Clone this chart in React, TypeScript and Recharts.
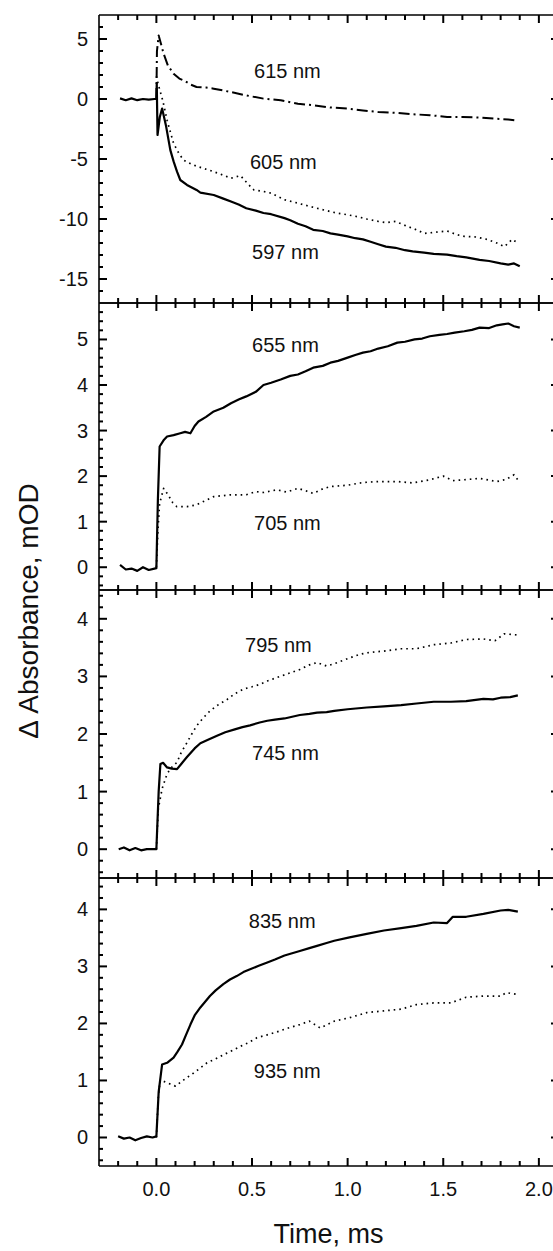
import React from 'react';
import { LineChart, Line, XAxis, YAxis, ReferenceDot } from 'recharts';

const FONT = '"Liberation Sans", Arial, Helvetica, sans-serif';

// ---------- axis ticks ----------
const xTicks = [-0.2, -0.1, 0, 0.1, 0.2, 0.3, 0.4, 0.5, 0.6, 0.7, 0.8, 0.9, 1.0, 1.1, 1.2, 1.3, 1.4, 1.5, 1.6, 1.7, 1.8, 1.9, 2.0];
const xMajor = [0, 0.5, 1.0, 1.5, 2.0];

const p1Ticks = [-16, -15, -14, -13, -12, -11, -10, -9, -8, -7, -6, -5, -4, -3, -2, -1, 0, 1, 2, 3, 4, 5, 6];
const p1Major = [-15, -10, -5, 0, 5];
const p2Ticks = [-0.4, -0.2, 0, 0.2, 0.4, 0.6, 0.8, 1, 1.2, 1.4, 1.6, 1.8, 2, 2.2, 2.4, 2.6, 2.8, 3, 3.2, 3.4, 3.6, 3.8, 4, 4.2, 4.4, 4.6, 4.8, 5, 5.2, 5.4, 5.6];
const p2Major = [0, 1, 2, 3, 4, 5];
const p34Ticks = [-0.4, -0.2, 0, 0.2, 0.4, 0.6, 0.8, 1, 1.2, 1.4, 1.6, 1.8, 2, 2.2, 2.4, 2.6, 2.8, 3, 3.2, 3.4, 3.6, 3.8, 4, 4.2, 4.4];
const p34Major = [0, 1, 2, 3, 4];

// ---------- panel 1 ----------
const t597 = [-0.19, -0.16, -0.13, -0.1, -0.07, -0.04, -0.01, 0.0, 0.002, 0.006, 0.018, 0.03, 0.05, 0.073, 0.09, 0.108, 0.125, 0.16, 0.21, 0.23, 0.30, 0.35, 0.39, 0.43, 0.47, 0.52, 0.56, 0.6, 0.67, 0.7, 0.74, 0.78, 0.82, 0.87, 0.91, 0.95, 1.0, 1.04, 1.08, 1.12, 1.16, 1.2, 1.25, 1.3, 1.34, 1.4, 1.45, 1.52, 1.57, 1.62, 1.69, 1.74, 1.8, 1.84, 1.87, 1.9];
const v597 = [0.05, -0.1, 0.05, -0.1, 0.0, -0.05, 0.0, 0.0, 1.3, -3.0, -1.5, -0.8, -2.2, -4.26, -5.2, -6.06, -6.75, -7.16, -7.58, -7.8, -8.0, -8.3, -8.55, -8.8, -9.1, -9.3, -9.5, -9.6, -9.93, -10.1, -10.4, -10.6, -10.9, -11.0, -11.2, -11.3, -11.45, -11.6, -11.7, -11.9, -12.1, -12.3, -12.4, -12.6, -12.7, -12.8, -12.9, -12.97, -13.1, -13.2, -13.4, -13.5, -13.7, -13.8, -13.7, -13.94];

const t605 = [0.0, 0.01, 0.033, 0.056, 0.09, 0.12, 0.143, 0.18, 0.21, 0.26, 0.30, 0.35, 0.39, 0.44, 0.48, 0.51, 0.56, 0.60, 0.67, 0.74, 0.79, 0.84, 0.89, 0.94, 1.0, 1.05, 1.1, 1.16, 1.2, 1.25, 1.31, 1.36, 1.40, 1.46, 1.52, 1.57, 1.61, 1.67, 1.73, 1.78, 1.82, 1.86, 1.89];
const v605 = [1.9, 1.2, -0.1, -1.77, -3.7, -4.6, -5.1, -5.4, -5.6, -5.85, -6.06, -6.35, -6.6, -6.39, -7.1, -7.58, -7.7, -7.85, -8.4, -8.68, -8.9, -9.1, -9.3, -9.5, -9.65, -9.8, -10.0, -10.2, -10.3, -10.2, -10.6, -10.9, -11.2, -11.1, -11.0, -11.3, -11.45, -11.5, -11.7, -12.0, -12.3, -11.7, -12.0];

const t615 = [0.0, 0.003, 0.012, 0.038, 0.06, 0.09, 0.12, 0.143, 0.18, 0.21, 0.26, 0.30, 0.39, 0.47, 0.56, 0.65, 0.74, 0.82, 0.91, 1.0, 1.08, 1.16, 1.25, 1.34, 1.43, 1.52, 1.6, 1.69, 1.78, 1.84, 1.89];
const v615 = [0.0, 4.0, 5.3, 3.77, 2.8, 2.1, 1.7, 1.55, 1.2, 1.0, 0.95, 0.86, 0.58, 0.3, 0.03, -0.1, -0.4, -0.52, -0.71, -0.8, -0.95, -1.08, -1.15, -1.27, -1.35, -1.49, -1.5, -1.54, -1.65, -1.7, -1.82];

// ---------- panel 2 ----------
const t655 = [-0.19, -0.16, -0.13, -0.1, -0.07, -0.04, -0.01, 0.0, 0.008, 0.017, 0.04, 0.056, 0.09, 0.125, 0.15, 0.178, 0.2, 0.22, 0.26, 0.30, 0.35, 0.39, 0.43, 0.47, 0.52, 0.56, 0.6, 0.65, 0.7, 0.74, 0.78, 0.82, 0.87, 0.91, 0.95, 1.0, 1.04, 1.08, 1.12, 1.16, 1.21, 1.26, 1.3, 1.35, 1.39, 1.43, 1.48, 1.52, 1.56, 1.61, 1.65, 1.69, 1.74, 1.78, 1.81, 1.84, 1.87, 1.9];
const v655 = [0.05, -0.05, -0.03, -0.08, 0.0, -0.06, -0.03, -0.02, 1.5, 2.65, 2.8, 2.87, 2.9, 2.94, 2.97, 2.94, 3.1, 3.2, 3.3, 3.42, 3.5, 3.6, 3.68, 3.75, 3.85, 4.0, 4.05, 4.12, 4.2, 4.23, 4.3, 4.38, 4.42, 4.49, 4.53, 4.6, 4.66, 4.71, 4.74, 4.8, 4.85, 4.93, 4.95, 5.0, 5.02, 5.07, 5.1, 5.12, 5.15, 5.18, 5.21, 5.26, 5.25, 5.31, 5.33, 5.35, 5.29, 5.26];

const t705 = [0.0, 0.008, 0.017, 0.038, 0.06, 0.085, 0.107, 0.16, 0.21, 0.25, 0.30, 0.39, 0.47, 0.52, 0.56, 0.63, 0.68, 0.74, 0.78, 0.82, 0.87, 0.91, 1.0, 1.08, 1.16, 1.26, 1.34, 1.43, 1.5, 1.55, 1.61, 1.69, 1.78, 1.83, 1.87, 1.89];
const v705 = [0.0, 0.8, 1.4, 1.73, 1.6, 1.42, 1.33, 1.33, 1.37, 1.45, 1.55, 1.59, 1.59, 1.66, 1.64, 1.70, 1.65, 1.73, 1.68, 1.62, 1.72, 1.77, 1.8, 1.86, 1.88, 1.88, 1.85, 1.92, 2.0, 1.9, 1.92, 1.95, 1.88, 1.93, 2.03, 1.92];

// ---------- panel 3 ----------
const t745 = [-0.197, -0.17, -0.14, -0.11, -0.08, -0.05, -0.02, 0.0, 0.012, 0.021, 0.035, 0.056, 0.08, 0.108, 0.13, 0.16, 0.2, 0.23, 0.27, 0.317, 0.36, 0.41, 0.45, 0.49, 0.54, 0.58, 0.62, 0.67, 0.71, 0.75, 0.8, 0.84, 0.89, 0.93, 1.0, 1.1, 1.19, 1.28, 1.36, 1.45, 1.54, 1.62, 1.71, 1.76, 1.8, 1.85, 1.89];
const v745 = [0.0, 0.03, -0.02, 0.02, -0.02, 0.0, 0.0, 0.0, 1.0, 1.48, 1.5, 1.42, 1.4, 1.39, 1.48, 1.6, 1.75, 1.84, 1.9, 1.97, 2.03, 2.08, 2.12, 2.15, 2.2, 2.23, 2.25, 2.27, 2.3, 2.33, 2.35, 2.37, 2.38, 2.40, 2.43, 2.46, 2.48, 2.50, 2.53, 2.56, 2.56, 2.57, 2.61, 2.60, 2.63, 2.64, 2.67];

const t795 = [0.0, 0.01, 0.03, 0.056, 0.08, 0.108, 0.13, 0.16, 0.185, 0.21, 0.245, 0.28, 0.32, 0.37, 0.41, 0.456, 0.5, 0.54, 0.58, 0.63, 0.69, 0.75, 0.8, 0.84, 0.89, 0.93, 1.01, 1.06, 1.10, 1.19, 1.28, 1.36, 1.45, 1.54, 1.62, 1.71, 1.77, 1.82, 1.885];
const v795 = [0.0, 0.7, 1.05, 1.31, 1.42, 1.51, 1.68, 1.85, 2.0, 2.14, 2.28, 2.40, 2.5, 2.60, 2.7, 2.78, 2.82, 2.86, 2.92, 2.98, 3.05, 3.12, 3.2, 3.24, 3.18, 3.22, 3.32, 3.38, 3.41, 3.44, 3.48, 3.48, 3.55, 3.58, 3.64, 3.65, 3.62, 3.74, 3.72];

// ---------- panel 4 ----------
const t835 = [-0.2, -0.17, -0.14, -0.11, -0.08, -0.05, -0.02, 0.0, 0.012, 0.03, 0.056, 0.09, 0.11, 0.134, 0.155, 0.178, 0.2, 0.23, 0.255, 0.28, 0.31, 0.35, 0.385, 0.42, 0.455, 0.49, 0.535, 0.58, 0.62, 0.67, 0.71, 0.75, 0.8, 0.84, 0.89, 0.93, 1.01, 1.10, 1.19, 1.28, 1.36, 1.45, 1.52, 1.55, 1.62, 1.71, 1.80, 1.84, 1.89];
const v835 = [0.02, -0.02, 0.0, -0.05, -0.01, 0.02, 0.0, 0.02, 0.8, 1.28, 1.31, 1.40, 1.5, 1.63, 1.8, 1.98, 2.14, 2.28, 2.38, 2.48, 2.58, 2.69, 2.77, 2.83, 2.9, 2.95, 3.01, 3.07, 3.12, 3.19, 3.23, 3.27, 3.32, 3.36, 3.41, 3.45, 3.51, 3.57, 3.63, 3.67, 3.71, 3.77, 3.76, 3.87, 3.87, 3.92, 3.98, 3.99, 3.96];

const t935 = [0.0, 0.01, 0.02, 0.056, 0.1, 0.143, 0.195, 0.23, 0.265, 0.31, 0.35, 0.4, 0.44, 0.48, 0.526, 0.58, 0.63, 0.69, 0.75, 0.80, 0.857, 0.93, 1.01, 1.10, 1.19, 1.28, 1.36, 1.45, 1.54, 1.62, 1.71, 1.80, 1.83, 1.885];
const v935 = [0.0, 0.7, 1.01, 0.96, 0.90, 1.01, 1.13, 1.22, 1.31, 1.38, 1.45, 1.53, 1.60, 1.66, 1.75, 1.8, 1.85, 1.92, 1.98, 2.04, 1.92, 2.04, 2.10, 2.19, 2.22, 2.25, 2.33, 2.36, 2.36, 2.46, 2.48, 2.48, 2.54, 2.51];

// annotation labels: text, t, value
const labels1 = [['615 nm', 0.685, 2.38], ['605 nm', 0.664, -5.25], ['597 nm', 0.675, -12.72]];
const labels2 = [['655 nm', 0.675, 4.89], ['705 nm', 0.685, 0.976]];
const labels3 = [['795 nm', 0.638, 3.55], ['745 nm', 0.675, 1.67]];
const labels4 = [['835 nm', 0.658, 3.80], ['935 nm', 0.684, 1.16]];

const zip = (t: number[], v: number[]) => t.map((x, i) => ({ t: x, v: v[i] }));

const isIn = (arr: number[], v: number) => arr.some((m) => Math.abs(m - v) < 1e-6);

const TICK_W = 2;
const CHART_W = 570;
const LEFT_W = 99;
const RIGHT_M = 12;
const PLOT_W = CHART_W - LEFT_W - RIGHT_M;

const makeXTick = (dir: number, showLabel: boolean) => (props: any) => {
  const { x, y, payload } = props;
  const v = payload.value;
  const major = isIn(xMajor, v);
  const len = major ? 8 : 5;
  return (
    <g>
      <path d={`M${x},${y}L${x},${y + dir * len}`} stroke="#000" strokeWidth={TICK_W} fill="none" />
      {showLabel && major ? (
        <text x={x} y={y + 30} textAnchor="middle" fontSize={20} fontFamily={FONT} fill="#111">
          {v.toFixed(1)}
        </text>
      ) : null}
    </g>
  );
};

const makeYTick = (majors: number[]) => (props: any) => {
  const { x, y, payload } = props;
  const v = payload.value;
  const major = isIn(majors, v);
  const len = major ? 8 : 4;
  const rx = x + PLOT_W;
  return (
    <g>
      <path d={`M${x},${y}L${x + len},${y}`} stroke="#000" strokeWidth={TICK_W} fill="none" />
      {major ? (
        <path d={`M${rx - 7},${y}L${rx},${y}`} stroke="#000" strokeWidth={TICK_W} fill="none" />
      ) : null}
      {major ? (
        <text x={x - 11} y={y + 7} textAnchor="end" fontSize={20} fontFamily={FONT} fill="#111">
          {String(v)}
        </text>
      ) : null}
    </g>
  );
};

const SOLID = { stroke: '#000', strokeWidth: 2.2 };
const DOTTED = { stroke: '#000', strokeWidth: 1.7, strokeDasharray: '1.6 4' };
const DASHDOT = { stroke: '#000', strokeWidth: 2, strokeDasharray: '11 4 2 4' };

type Series = { data: { t: number; v: number }[]; style: any };

function Panel(props: {
  top: number;
  plotH: number;
  domain: [number, number];
  ticks: number[];
  majors: number[];
  series: Series[];
  labels: any[];
  bottom?: boolean;
}) {
  const { top, plotH, domain, ticks, majors, series, labels, bottom } = props;
  const xAxisH = bottom ? 82 : 1;
  const mBottom = bottom ? 3 : 9;
  const height = 10 + plotH + xAxisH + mBottom;
  return (
    <div style={{ position: 'absolute', left: 0, top: top - 10 }}>
      <LineChart width={CHART_W} height={height} margin={{ top: 9, right: RIGHT_M, bottom: mBottom, left: 0 }}>
        <XAxis
          xAxisId="b"
          type="number"
          dataKey="t"
          domain={[-0.3, 2.1]}
          ticks={xTicks}
          interval={0}
          orientation="bottom"
          height={xAxisH}
          tickSize={0}
          tickMargin={0}
          tickLine={false}
          axisLine={{ stroke: '#000', strokeWidth: 1.6 }}
          tick={makeXTick(-1, !!bottom)}
          allowDataOverflow
          label={
            bottom
              ? { value: 'Time, ms', position: 'insideBottom', offset: 5, fontSize: 27, fontFamily: FONT, fill: '#111' }
              : undefined
          }
        />
        <XAxis
          xAxisId="t"
          type="number"
          dataKey="t"
          domain={[-0.3, 2.1]}
          ticks={xTicks}
          interval={0}
          orientation="top"
          height={1}
          tickSize={0}
          tickMargin={0}
          tickLine={false}
          axisLine={{ stroke: '#000', strokeWidth: 1.6 }}
          tick={makeXTick(1, false)}
          allowDataOverflow
        />
        <YAxis
          yAxisId="l"
          type="number"
          domain={domain}
          ticks={ticks}
          interval={0}
          orientation="left"
          width={LEFT_W}
          tickSize={0}
          tickMargin={0}
          tickLine={false}
          axisLine={{ stroke: '#000', strokeWidth: 1.6 }}
          tick={makeYTick(majors)}
          allowDataOverflow
        />
        {series.map((s, i) => (
          <Line
            key={i}
            xAxisId="b"
            yAxisId="l"
            data={s.data}
            dataKey="v"
            type="linear"
            dot={false}
            activeDot={false}
            isAnimationActive={false}
            strokeLinejoin="round"
            {...s.style}
          />
        ))}
        {labels.map((l, i) => (
          <ReferenceDot
            key={'l' + i}
            xAxisId="b"
            yAxisId="l"
            x={l[1]}
            y={l[2]}
            r={0}
            fill="none"
            stroke="none"
            label={{ value: l[0], position: 'center', fontSize: 20, fontFamily: FONT, fill: '#111' }}
          />
        ))}
      </LineChart>
    </div>
  );
}

export default function App() {
  return (
    <div
      style={{
        position: 'absolute',
        left: 0,
        top: 0,
        width: 553,
        height: 1251,
        overflow: 'hidden',
        background: '#fff',
      }}
    >
      <Panel
        top={15}
        plotH={288}
        domain={[-17, 7]}
        ticks={p1Ticks}
        majors={p1Major}
        series={[
          { data: zip(t615, v615), style: DASHDOT },
          { data: zip(t605, v605), style: DOTTED },
          { data: zip(t597, v597), style: SOLID },
        ]}
        labels={labels1}
      />
      <Panel
        top={303}
        plotH={287}
        domain={[-0.5, 5.8]}
        ticks={p2Ticks}
        majors={p2Major}
        series={[
          { data: zip(t705, v705), style: DOTTED },
          { data: zip(t655, v655), style: SOLID },
        ]}
        labels={labels2}
      />
      <Panel
        top={590}
        plotH={288}
        domain={[-0.5, 4.5]}
        ticks={p34Ticks}
        majors={p34Major}
        series={[
          { data: zip(t795, v795), style: DOTTED },
          { data: zip(t745, v745), style: SOLID },
        ]}
        labels={labels3}
      />
      <Panel
        top={878}
        plotH={288}
        domain={[-0.5, 4.55]}
        ticks={p34Ticks}
        majors={p34Major}
        series={[
          { data: zip(t935, v935), style: DOTTED },
          { data: zip(t835, v835), style: SOLID },
        ]}
        labels={labels4}
        bottom
      />
      <svg width={60} height={1251} style={{ position: 'absolute', left: 0, top: 0 }}>
        <text
          transform="translate(38,611) rotate(-90)"
          textAnchor="middle"
          fontSize={28}
          fontFamily={FONT}
          fill="#111"
        >
          Δ Absorbance, mOD
        </text>
      </svg>
    </div>
  );
}
